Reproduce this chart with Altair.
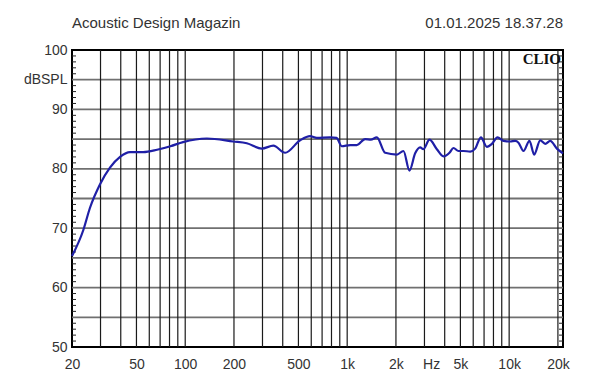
import altair as alt
import pandas as pd

# ---- data ----
freq = [20, 23.5, 25.8, 29.8, 34.3, 39.6, 45.6, 55, 67, 81, 97, 136, 198, 240, 297,
        350, 414, 512, 590, 649, 784, 860, 926, 1043, 1147, 1290, 1400, 1524, 1716,
        2026, 2225, 2424, 2628, 2822, 2958, 3221, 3578, 3932, 4282, 4532, 4866, 5224,
        5746, 6170, 6690, 7286, 7824, 8472, 9226, 10150, 10898, 11420, 12260, 13350,
        14270, 15550, 16700, 17930, 19720, 21480]
spl = [65.3, 69.7, 73.4, 77.4, 80.2, 82.0, 82.8, 82.8, 83.2, 83.8, 84.5, 85.1, 84.6,
       84.3, 83.4, 83.9, 82.7, 84.8, 85.5, 85.2, 85.3, 85.2, 83.8, 84.0, 84.0, 85.0,
       84.9, 85.3, 82.7, 82.4, 83.0, 79.7, 82.6, 83.6, 83.3, 84.9, 83.3, 82.1, 82.7,
       83.5, 83.0, 83.0, 82.9, 83.4, 85.3, 83.7, 84.2, 85.3, 84.7, 84.6, 84.7, 84.4,
       83.0, 84.7, 82.4, 84.8, 84.2, 84.7, 83.4, 82.6]

vgrid = [30, 40, 50, 60, 70, 80, 90,
         100, 200, 300, 400, 500, 600, 700, 800, 900,
         1000, 2000, 3000, 4000, 5000, 6000, 7000, 8000, 9000,
         10000, 20000]
hgrid = [55, 60, 65, 70, 75, 80, 85, 90, 95]
minor = [v for v in range(51, 100) if v % 5 != 0]

x_ticks = [20, 50, 100, 200, 500, 1000, 2000, 3300, 5000, 10000, 20000]
y_ticks = [50, 60, 70, 80, 90, 95, 100]

title_left = "Acoustic Design Magazin"
title_right = "01.01.2025 18.37.28"
brand = "CLIO"

W, H = 491, 297
FONT = "Liberation Sans"

xs = alt.Scale(type="log", domain=[20, 21500], nice=False)
ys = alt.Scale(domain=[50, 100], nice=False)

curve_df = pd.DataFrame({"f": freq, "db": spl})
vg_df = pd.DataFrame({"f": vgrid})
hg_df = pd.DataFrame({"db": hgrid})
mn_df = pd.DataFrame({"db": minor})

x_axis = alt.Axis(values=x_ticks, grid=False, ticks=False, domain=False,
                  labelExpr="datum.value == 3300 ? 'Hz' : (datum.value >= 1000 ? (datum.value/1000) + 'k' : datum.value)",
                  labelFont=FONT, labelFontSize=14, labelColor="#333", labelPadding=10,
                  labelFlush=False, labelOverlap=False, title=None)
y_axis = alt.Axis(values=y_ticks, grid=False, ticks=False, domain=False,
                  labelExpr="datum.value == 95 ? 'dBSPL' : datum.value",
                  labelFont=FONT, labelFontSize=14, labelColor="#333", labelPadding=5,
                  labelFlush=False, labelOverlap=False, title=None)

hlines = alt.Chart(hg_df).mark_rule(color="#707070", strokeWidth=1.8).encode(
    y=alt.Y("db:Q", scale=ys, axis=y_axis))
vlines = alt.Chart(vg_df).mark_rule(color="#1a1a1a", strokeWidth=1.2).encode(
    x=alt.X("f:Q", scale=xs, axis=x_axis))
minor_l = alt.Chart(mn_df).mark_rule(color="#222", strokeWidth=1).encode(
    y=alt.Y("db:Q", scale=ys), x=alt.value(0), x2=alt.value(4))
minor_r = alt.Chart(mn_df).mark_rule(color="#222", strokeWidth=1).encode(
    y=alt.Y("db:Q", scale=ys), x=alt.value(W - 4), x2=alt.value(W))
line = alt.Chart(curve_df).mark_line(color="#1f1fa6", strokeWidth=2.2, interpolate="monotone").encode(
    x=alt.X("f:Q", scale=xs), y=alt.Y("db:Q", scale=ys))

t_left = alt.Chart(pd.DataFrame({"t": [title_left]})).mark_text(
    align="left", baseline="alphabetic", font=FONT, fontSize=15, color="#333").encode(
    text="t:N", x=alt.value(0), y=alt.value(-22))
t_right = alt.Chart(pd.DataFrame({"t": [title_right]})).mark_text(
    align="right", baseline="alphabetic", font=FONT, fontSize=15, color="#333").encode(
    text="t:N", x=alt.value(W), y=alt.value(-22))
t_brand = alt.Chart(pd.DataFrame({"t": [brand]})).mark_text(
    align="right", baseline="alphabetic", font="Liberation Serif", fontSize=15,
    fontWeight="bold", color="#111").encode(
    text="t:N", x=alt.value(W - 2), y=alt.value(14))

chart = alt.layer(hlines, vlines, minor_l, minor_r, line, t_left, t_right, t_brand).properties(
    width=W, height=H,
    autosize=alt.AutoSizeParams(type="none"),
    padding={"left": 64, "top": 42, "right": 20, "bottom": 30},
    background="white",
).configure_view(stroke="black", strokeWidth=2)

chart.save("out.html", embed_options={"renderer": "svg", "actions": False})
